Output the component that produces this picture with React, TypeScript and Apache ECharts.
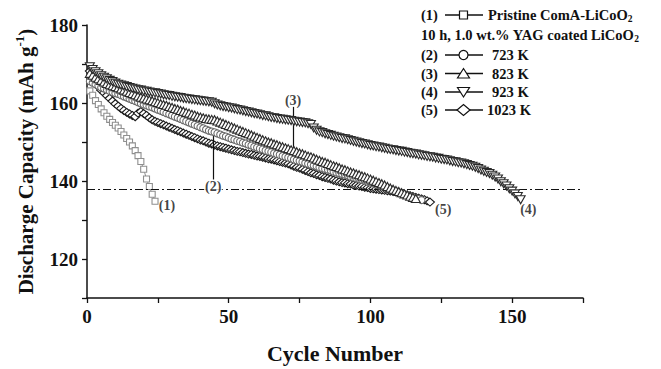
import React, { useEffect, useRef } from 'react';
import * as echarts from 'echarts';

const FONT = '"Liberation Serif", "Times New Roman", Times, serif';

// Discharge capacity (mAh g-1) per cycle, starting at cycle 1
const pristineComA = [163.1, 162.0, 160.6, 159.6, 158.5, 157.5, 156.6, 155.8, 155.0, 154.3, 153.6, 152.7, 151.8, 150.9, 150.0, 149.0, 147.8, 146.5, 145.0, 143.0, 140.5, 138.6, 136.6, 134.8];

const yag723K = [
  165.6, 165.2, 164.8, 164.4, 164.0, 163.7, 163.4, 163.1, 162.8, 162.5,
  162.3, 162.0, 161.7, 161.4, 161.1, 160.8, 160.5, 160.2, 159.9, 159.6,
  159.4, 159.1, 158.9, 158.6, 158.3, 158.0, 157.7, 157.4, 157.1, 156.8,
  156.5, 156.2, 155.9, 155.6, 155.3, 155.0, 154.7, 154.4, 154.1, 153.8,
  153.5, 153.2, 152.9, 152.7, 152.5, 152.2, 151.9, 151.6, 151.4, 151.1,
  150.8, 150.6, 150.3, 150.1, 149.8, 149.6, 149.3, 149.1, 148.8, 148.6,
  148.3, 148.1, 147.8, 147.6, 147.4, 147.1, 146.9, 146.7, 146.4, 146.2,
  146.0, 145.8, 145.5, 145.3, 145.1, 144.9, 144.6, 144.4, 144.2, 144.0,
  143.8, 143.5, 143.3, 143.1, 142.9, 142.7, 142.4, 142.2, 142.0, 141.8,
  141.6, 141.4, 141.1, 140.9, 140.7, 140.5, 140.3, 140.1, 139.8, 139.6,
  139.4, 139.1, 138.9, 138.6, 138.4, 138.1, 137.9, 137.6, 137.4, 137.1,
  136.9, 136.6, 136.4, 136.1, 135.9, 135.6, 135.4, 135.1
];

const yag823K = [
  167.6, 167.1, 166.6, 166.2, 165.8, 165.4, 165.0, 164.7, 164.4, 164.2,
  163.9, 163.6, 163.3, 163.0, 162.7, 162.4, 162.1, 161.8, 161.5, 161.3,
  161.0, 160.8, 160.6, 160.3, 160.1, 159.8, 159.6, 159.4, 159.1, 158.9,
  158.6, 158.4, 158.1, 157.9, 157.6, 157.4, 157.1, 156.9, 156.6, 156.4,
  156.2, 156.0, 155.9, 155.8, 155.7, 155.4, 155.1, 154.8, 154.5, 154.2,
  153.9, 153.6, 153.3, 153.0, 152.7, 152.4, 152.1, 151.8, 151.5, 151.2,
  150.9, 150.6, 150.3, 150.0, 149.8, 149.5, 149.3, 149.0, 148.8, 148.5,
  148.3, 148.0, 147.8, 147.5, 147.2, 147.0, 146.7, 146.4, 146.2, 145.9,
  145.6, 145.3, 145.0, 144.8, 144.5, 144.2, 143.9, 143.7, 143.4, 143.1,
  142.9, 142.6, 142.3, 142.1, 141.8, 141.6, 141.3, 141.1, 140.8, 140.5,
  140.2, 139.9, 139.6, 139.3, 139.0, 138.6, 138.2, 137.9, 137.6, 137.3,
  137.0, 136.7, 136.4, 136.1, 135.8, 135.5
];

const yag923K = [
  169.3, 168.6, 168.0, 167.5, 167.0, 166.6, 166.2, 165.8, 165.5, 165.1,
  164.8, 164.6, 164.4, 164.2, 164.0, 163.8, 163.6, 163.4, 163.3, 163.1,
  163.0, 162.8, 162.7, 162.6, 162.4, 162.3, 162.1, 162.0, 161.9, 161.7,
  161.6, 161.5, 161.4, 161.2, 161.1, 161.0, 160.9, 160.8, 160.7, 160.6,
  160.5, 160.4, 160.3, 160.2, 159.8, 159.5, 159.3, 159.1, 159.0, 158.8,
  158.7, 158.5, 158.3, 158.2, 158.0, 157.8, 157.7, 157.5, 157.3, 157.2,
  157.0, 156.8, 156.7, 156.5, 156.3, 156.2, 156.0, 155.9, 155.8, 155.7,
  155.6, 155.5, 155.3, 155.2, 155.1, 155.0, 154.9, 154.7, 154.5, 153.6,
  153.0, 152.6, 152.4, 152.1, 151.9, 151.7, 151.5, 151.3, 151.1, 150.9,
  150.8, 150.6, 150.4, 150.2, 150.0, 149.8, 149.6, 149.5, 149.3, 149.1,
  149.0, 148.8, 148.7, 148.5, 148.4, 148.2, 148.1, 148.0, 147.8, 147.7,
  147.6, 147.4, 147.3, 147.1, 147.0, 146.9, 146.7, 146.6, 146.5, 146.3,
  146.2, 146.1, 145.9, 145.8, 145.6, 145.5, 145.4, 145.2, 145.0, 144.9,
  144.7, 144.6, 144.4, 144.2, 144.0, 143.8, 143.5, 143.2, 142.8, 142.5,
  142.2, 141.9, 141.5, 141.0, 140.5, 139.8, 139.3, 138.7, 138.0, 137.4,
  136.7, 136.0, 135.2
];

const yag1023K = [
  168.2, 166.8, 165.2, 164.2, 163.3, 162.6, 161.9, 161.2, 160.5, 159.8,
  159.2, 158.6, 158.1, 157.6, 157.2, 156.8, 156.5, 157.4, 157.8, 157.3,
  156.8, 156.2, 155.7, 155.3, 155.0, 154.7, 154.4, 154.1, 153.8, 153.5,
  153.2, 152.9, 152.6, 152.3, 152.0, 151.7, 151.4, 151.1, 150.8, 150.5,
  150.3, 150.0, 149.7, 149.5, 149.2, 149.0, 148.8, 148.6, 148.4, 148.2,
  148.0, 147.8, 147.6, 147.5, 147.3, 147.1, 146.9, 146.8, 146.6, 146.4,
  146.3, 146.1, 145.9, 145.7, 145.6, 145.4, 145.2, 145.0, 144.8, 144.6,
  144.4, 144.1, 143.8, 143.5, 143.3, 143.0, 142.7, 142.4, 142.1, 141.9,
  141.6, 141.4, 141.1, 140.9, 140.7, 140.5, 140.2, 140.0, 139.8, 139.6,
  139.5, 139.3, 139.2, 139.0, 138.9, 138.7, 138.6, 138.4, 138.3, 138.1,
  138.0, 137.9, 137.8, 137.7, 137.6, 137.5, 137.4, 137.3, 137.2, 137.0,
  136.8, 136.6, 136.4, 136.2, 136.0, 135.8, 135.6, 135.4, 135.2, 134.9,
  134.6
];

const thresholdCapacity = 138;
const xTickLabels = [0, 50, 100, 150];
const yTickLabels = [120, 140, 160, 180];

const annotationTexts = ['(1)', '(2)', '(3)', '(4)', '(5)'];
const annotationCycle = [28.2, 44.5, 72.7, 155.7, 125.7];
const annotationCap = [133.6, 138.6, 160.7, 132.6, 132.7];

const pointer2 = { cycle: 44.5, from: 151.9, to: 140.3 };
const pointer3 = { cycle: 72.7, from: 159.0, to: 147.9 };

const toPairs = (vals: number[]) => vals.map((v, i) => [i + 1, v]);

function legendGraphic(): any[] {
  const els: any[] = [];
  const txt = (x: number, y: number, text: string, extra: any = {}) => ({
    type: 'text',
    x, y,
    style: {
      text,
      fontFamily: FONT,
      fontWeight: 'bold',
      fontSize: 14.5,
      fill: '#111',
      verticalAlign: 'middle',
      align: 'left',
      lineHeight: 18,
      rich: {
        s: { fontSize: 9.5, fontFamily: FONT, fontWeight: 'bold', fill: '#111', verticalAlign: 'bottom', lineHeight: 10 }
      },
      ...extra
    }
  });
  const seg = (y: number) => ({
    type: 'line',
    shape: { x1: 445, y1: y, x2: 483, y2: y },
    style: { stroke: '#111', lineWidth: 1.3 }
  });
  const mstyle = { fill: '#fff', stroke: '#111', lineWidth: 1.2 };
  const rows = [15, 35, 55, 73.5, 92, 110];

  els.push(txt(421, rows[0], '(1)'));
  els.push(seg(rows[0]));
  els.push({ type: 'rect', shape: { x: 459.5, y: rows[0] - 4, width: 8, height: 8 }, style: mstyle });
  els.push(txt(488, rows[0], 'Pristine ComA-LiCoO{s|2}'));

  els.push(txt(421, rows[1], '10 h, 1.0 wt.% YAG coated LiCoO{s|2}'));

  els.push(txt(421, rows[2], '(2)'));
  els.push(seg(rows[2]));
  els.push({ type: 'circle', shape: { cx: 463.5, cy: rows[2], r: 4.5 }, style: mstyle });
  els.push(txt(492, rows[2], '723 K'));

  els.push(txt(421, rows[3], '(3)'));
  els.push(seg(rows[3]));
  els.push({ type: 'polygon', shape: { points: [[457.5, rows[3] + 4.5], [469.5, rows[3] + 4.5], [463.5, rows[3] - 5]] }, style: mstyle });
  els.push(txt(492, rows[3], '823 K'));

  els.push(txt(421, rows[4], '(4)'));
  els.push(seg(rows[4]));
  els.push({ type: 'polygon', shape: { points: [[457.5, rows[4] - 4.5], [469.5, rows[4] - 4.5], [463.5, rows[4] + 5]] }, style: mstyle });
  els.push(txt(492, rows[4], '923 K'));

  els.push(txt(421, rows[5], '(5)'));
  els.push(seg(rows[5]));
  els.push({ type: 'polygon', shape: { points: [[457, rows[5]], [463.5, rows[5] - 5.5], [470, rows[5]], [463.5, rows[5] + 5.5]] }, style: mstyle });
  els.push(txt(487, rows[5], '1023 K'));

  return els;
}

export default function App() {
  const ref = useRef<HTMLDivElement>(null);

  useEffect(() => {
    if (!ref.current) return;
    const chart = echarts.init(ref.current, undefined, { renderer: 'svg' });

    const mkSeries = (name: string, vals: number[], symbol: string, size: any, border: string, rotate = 0, z = 2) => ({
      type: 'line',
      name,
      data: toPairs(vals),
      symbol,
      symbolSize: size,
      symbolRotate: rotate,
      showSymbol: true,
      showAllSymbol: true,
      z,
      itemStyle: { color: '#fff', borderColor: border, borderWidth: 1.1 },
      lineStyle: { color: border, width: 1 },
      emphasis: { disabled: true },
      silent: true
    });

    const option: any = {
      animation: false,
      backgroundColor: '#fff',
      grid: { left: 87, right: 78, top: 25, bottom: 62, containLabel: false },
      xAxis: {
        type: 'value',
        min: 0,
        max: 175,
        interval: 25,
        name: 'Cycle Number',
        nameLocation: 'middle',
        nameGap: 44,
        nameTextStyle: { fontFamily: FONT, fontWeight: 'bold', fontSize: 22, color: '#111' },
        axisLine: { show: true, onZero: false, lineStyle: { color: '#111', width: 1.5 } },
        axisTick: { show: true, inside: false, length: 5, lineStyle: { color: '#111', width: 1.3 } },
        axisLabel: {
          margin: 9,
          fontFamily: FONT,
          fontWeight: 'bold',
          fontSize: 19,
          color: '#111',
          formatter: (v: number) => (xTickLabels.includes(v) ? String(v) : '')
        },
        splitLine: { show: false }
      },
      yAxis: {
        type: 'value',
        min: 110,
        max: 180,
        interval: 10,
        name: 'Discharge Capacity (mAh g{sup|-1})',
        nameLocation: 'middle',
        nameGap: 47,
        nameTextStyle: {
          fontFamily: FONT, fontWeight: 'bold', fontSize: 21, color: '#111', lineHeight: 26,
          rich: { sup: { fontFamily: FONT, fontWeight: 'bold', fontSize: 13, color: '#111', verticalAlign: 'top', lineHeight: 13 } }
        },
        axisLine: { show: true, onZero: false, lineStyle: { color: '#111', width: 1.5 } },
        axisTick: { show: true, inside: false, length: 5, lineStyle: { color: '#111', width: 1.3 } },
        axisLabel: {
          margin: 9,
          fontFamily: FONT,
          fontWeight: 'bold',
          fontSize: 19,
          color: '#111',
          formatter: (v: number) => (yTickLabels.includes(v) ? String(v) : '')
        },
        splitLine: { show: false }
      },
      graphic: legendGraphic(),
      series: [
        {
          type: 'line',
          data: [],
          silent: true,
          z: 1,
          markLine: {
            silent: true,
            symbol: ['none', 'none'],
            label: { show: false },
            animation: false,
            data: [
              [
                { coord: [0, thresholdCapacity], lineStyle: { color: '#111', width: 1, type: [8, 3, 2, 3] } },
                { coord: [175, thresholdCapacity] }
              ],
              [
                { coord: [pointer2.cycle, pointer2.from], lineStyle: { color: '#111', width: 1.2, type: 'solid' } },
                { coord: [pointer2.cycle, pointer2.to] }
              ],
              [
                { coord: [pointer3.cycle, pointer3.from], lineStyle: { color: '#111', width: 1.2, type: 'solid' } },
                { coord: [pointer3.cycle, pointer3.to] }
              ]
            ]
          }
        },
        mkSeries('(1) Pristine ComA-LiCoO2', pristineComA, 'rect', 6, '#8f8f8f', 0, 3),
        mkSeries('(5) 1023 K', yag1023K, 'diamond', [9, 8], '#1a1a1a', 0, 4),
        mkSeries('(2) 723 K', yag723K, 'circle', 7, '#6a6a6a', 0, 5),
        mkSeries('(3) 823 K', yag823K, 'triangle', [9, 8], '#2a2a2a', 0, 6),
        mkSeries('(4) 923 K', yag923K, 'triangle', [9, 8], '#2a2a2a', 180, 7),
        {
          type: 'scatter',
          z: 10,
          silent: true,
          symbolSize: 0,
          data: annotationTexts.map((t, i) => ({
            value: [annotationCycle[i], annotationCap[i]],
            label: t === '(2)' ? { backgroundColor: '#fff', padding: [0, 1] } : {}
          })),
          label: {
            show: true,
            position: 'inside',
            formatter: (p: any) => annotationTexts[p.dataIndex],
            fontFamily: FONT,
            fontWeight: 'bold',
            fontSize: 14,
            color: '#111'
          }
        }
      ]
    };

    chart.setOption(option);
    return () => chart.dispose();
  }, []);

  return (
    <div
      ref={ref}
      style={{ position: 'fixed', left: 0, top: 0, width: 661, height: 369, background: '#fff' }}
    />
  );
}
